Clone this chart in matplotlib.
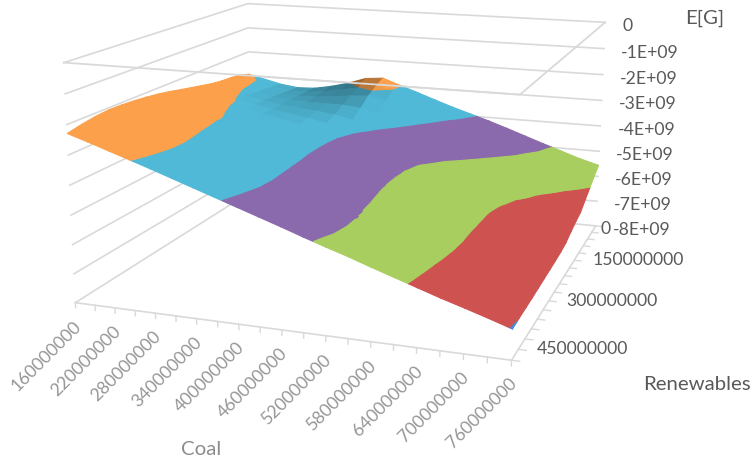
import numpy as np
import matplotlib
matplotlib.use("Agg")
import matplotlib.pyplot as plt
from matplotlib.colors import to_rgb
from mpl_toolkits.mplot3d import proj3d
from mpl_toolkits.mplot3d.art3d import Poly3DCollection

# Axis categories
coal = [160 + 30 * i for i in range(21)]          # millions
renewables = [30 * i for i in range(17)]          # millions
e_ticks = [0, -1, -2, -3, -4, -5, -6, -7, -8]     # 1E+09

# E[G] in units of -1E+07, one row per renewables category
e_r000 = [294,311,327,336,333,320,302,278,272,297,321,346,370,392,414,438,463,488,512,536,556]
e_r030 = [281,300,320,331,332,325,313,300,290,301,329,360,389,410,430,452,476,500,526,554,576]
e_r060 = [276,297,315,327,331,329,323,315,310,324,352,385,415,438,458,477,499,525,553,578,599]
e_r090 = [273,295,312,324,330,333,333,334,341,358,385,417,446,470,489,509,531,556,581,603,621]
e_r120 = [267,289,307,321,331,338,345,354,369,390,418,449,479,502,520,539,560,583,606,626,645]
e_r150 = [258,281,301,317,331,342,354,369,388,413,442,473,503,525,543,561,580,601,620,636,654]
e_r180 = [249,272,295,313,329,344,359,377,399,424,453,483,511,534,553,571,590,610,629,647,666]
e_r210 = [240,264,287,308,326,343,361,380,402,429,457,486,512,536,556,574,594,615,637,660,680]
e_r240 = [230,254,278,301,321,341,360,380,403,430,458,486,512,535,555,574,594,617,641,666,686]
e_r270 = [222,246,271,295,317,338,358,379,403,429,457,485,510,533,553,573,594,618,643,669,689]
e_r300 = [216,240,266,291,315,336,357,378,401,427,455,482,507,530,551,572,594,619,645,671,691]
e_r330 = [211,236,262,288,312,334,355,377,400,426,452,479,504,527,549,570,593,619,646,674,693]
e_r360 = [208,232,258,284,308,331,353,375,399,424,450,476,502,525,548,570,594,621,649,677,695]
e_r390 = [207,231,256,281,305,329,351,374,398,423,448,474,499,524,548,572,597,624,652,680,697]
e_r420 = [211,234,258,282,306,330,354,377,400,425,450,474,499,524,550,575,601,627,653,679,698]
e_r450 = [219,242,265,288,312,336,359,383,407,431,456,480,503,529,554,580,605,629,654,677,699]
e_r480 = [229,251,274,297,320,344,368,392,416,440,464,489,513,536,561,585,609,633,655,678,702]

e_rows = [e_r000, e_r030, e_r060, e_r090, e_r120, e_r150, e_r180, e_r210, e_r240,
          e_r270, e_r300, e_r330, e_r360, e_r390, e_r420, e_r450, e_r480]

band_edges = [-8, -7, -6, -5, -4, -3, -2]
band_colors = ['#468cd7', '#cd5250', '#a8ce5f', '#8a6aac', '#50b9d7', '#fda04b']

GRID = '#d9d9d9'
DARK_TEXT = '#595959'
LIGHT_TEXT = '#969696'
TITLE_LIGHT = '#8c8c8c'
FONT = 'Lato'
TICK_SIZE = 12.7
TITLE_SIZE = 14.7

x_vals = np.array(coal, float) * 1e6
y_vals = np.array(renewables, float) * 1e6
z_vals = -np.array(e_rows, float) * 1e7
x0, x1, y0, y1 = x_vals[0], x_vals[-1], y_vals[0], y_vals[-1]
z_bottom, z_top = e_ticks[-1] * 1e9, e_ticks[0] * 1e9

fig = plt.figure(figsize=(7.54, 4.6), dpi=100)
ax = fig.add_axes([0.0613, -0.0131, 0.8059, 1.321], projection='3d')
ax.set_axis_off()
ax.computed_zorder = False
ax.set_xlim(x0, x1, view_margin=0)
ax.set_ylim(y1, y0, view_margin=0)
ax.set_zlim(z_bottom, z_top, view_margin=0)
ax.set_box_aspect((1, 0.9878, 0.5467))
ax.view_init(elev=13.9454, azim=-70.887, roll=-0.1949)
ax.set_proj_type('persp', focal_length=0.4248)


def clip_side(poly, level, sign):
    """Keep the part of a polygon on one side of a horizontal plane."""
    out = []
    for i, a in enumerate(poly):
        b = poly[(i + 1) % len(poly)]
        da, db = sign * (a[2] - level), sign * (b[2] - level)
        if da >= 0:
            out.append(a)
        if da * db < 0:
            out.append(a + (b - a) * da / (da - db))
    return out


def tick_label(x, y, z, text, offset, **style):
    """Place a label a fixed number of pixels away from a point of the 3D axes."""
    px, py, _ = proj3d.proj_transform(x, y, z, ax.get_proj())
    ax.annotate(text, xy=(px, py), xycoords='data', xytext=offset,
                textcoords='offset pixels', family=FONT, fontsize=TICK_SIZE,
                annotation_clip=False, zorder=4, **style)


# Split every grid triangle along the value bands; cells that rise with coal are shaded darker
polygons, faces = [], []
for i in range(len(y_vals) - 1):
    for j in range(len(x_vals) - 1):
        corners = [np.array([x_vals[j + a], y_vals[i + b], z_vals[i + b, j + a]])
                   for a, b in [(0, 0), (1, 0), (1, 1), (0, 1)]]
        rise = (z_vals[i, j + 1] - z_vals[i, j] + z_vals[i + 1, j + 1] - z_vals[i + 1, j]) / 2e9
        shade = max(1 - 1.05 * max(0.0, rise + 0.165), 0.62)
        for tri in ([corners[0], corners[1], corners[2]], [corners[0], corners[2], corners[3]]):
            for k, color in enumerate(band_colors):
                lo = band_edges[k] * 1e9
                hi = band_edges[k + 1] * 1e9 if k < len(band_colors) - 1 else z_top
                poly = clip_side(tri, lo, 1)
                if poly:
                    poly = clip_side(poly, hi, -1)
                if len(poly) >= 3:
                    polygons.append(np.array(poly))
                    faces.append(tuple(c * shade for c in to_rgb(color)))

# Wall gridlines behind the surface
for tick in e_ticks:
    z = tick * 1e9
    ax.plot([x0, x0, x1], [y1, y0, y0], [z, z, z], color=GRID, lw=1.2, zorder=1)

# Floor edges and tick marks
ax.plot([x0, x1, x1], [y1, y1, y0], [z_bottom] * 3, color=GRID, lw=1.2, zorder=1)
for x in x_vals:
    ax.plot([x, x], [y1, y1], [z_bottom, z_bottom - 0.18e9], color=GRID, lw=1.0, zorder=1)
for y in y_vals:
    ax.plot([x1, x1 + 10e6], [y, y], [z_bottom, z_bottom], color=GRID, lw=1.0, zorder=1)

ax.add_collection3d(Poly3DCollection(polygons, facecolors=faces, edgecolors=faces,
                                     linewidths=0.8, zorder=2))

# Outline of the zero level, drawn over the surface
ax.plot([x0, x1, x1], [y1, y1, y0], [z_top] * 3, color=GRID, lw=1.3, zorder=3)

# Tick labels
for value in coal[::2]:
    tick_label(value * 1e6, y1, z_bottom, f"{value}000000", (3, -20), rotation=45,
               rotation_mode='anchor', ha='right', va='center', color=LIGHT_TEXT)
for value in renewables[::5]:
    label = f"{value}000000" if value else "0"
    tick_label(x1, value * 1e6, z_bottom, label, (18, 1) if value else (5, -2),
               ha='left', va='center', color=DARK_TEXT)
for tick in e_ticks:
    label = f"{tick}E+09" if tick else "0"
    tick_label(x1, y0, tick * 1e9, label, (17, -3), ha='left', va='center', color=DARK_TEXT)

# Axis titles
fig.text(705 / 754, 1 - 18 / 460, "E[G]", ha='center', va='center',
         color=DARK_TEXT, fontsize=TITLE_SIZE, family=FONT)
fig.text(697 / 754, 1 - 385 / 460, "Renewables", ha='center', va='center',
         color=DARK_TEXT, fontsize=TITLE_SIZE, family=FONT)
fig.text(201 / 754, 1 - 450 / 460, "Coal", ha='center', va='center',
         color=TITLE_LIGHT, fontsize=TITLE_SIZE, family=FONT)

fig.savefig("out.png", dpi=100)
